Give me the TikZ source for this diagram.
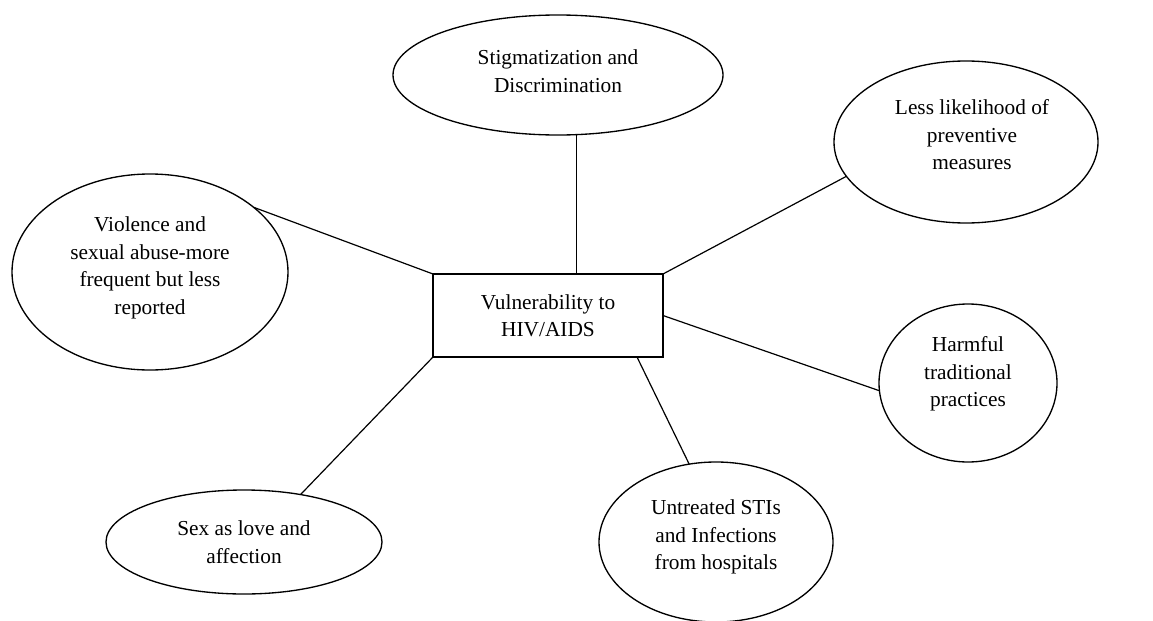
\documentclass[tikz,border=0pt]{standalone}
\usepackage{fontspec}
\setmainfont{Liberation Serif}
\usetikzlibrary{shapes.geometric}
\begin{document}
\begin{tikzpicture}[x=0.75pt,y=-0.75pt,
  bubble/.style={draw,ellipse,line width=1pt,inner sep=0pt,outer sep=0pt},
  txt/.style={align=center,inner sep=0pt,font=\fontsize{16}{20.6}\selectfont},
  boxnode/.style={draw,rectangle,line width=1pt,inner sep=0pt,outer sep=0pt,
    minimum width=172.5pt,minimum height=62.25pt,align=center,font=\fontsize{16}{20.6}\selectfont},
  link/.style={line width=0.9pt}]
\useasboundingbox (0,0) rectangle (1153,621);
% centre box
\node[boxnode] (box) at (548,315.5) {Vulnerability to\\HIV/AIDS};
% ellipses
\node[bubble,minimum width=247.5pt,minimum height=90pt] (e1) at (558,75) {};
\node[txt] (t1) at (558,71) {Stigmatization and\\Discrimination};
\node[bubble,minimum width=207pt,minimum height=147pt] (e2) at (150,272) {};
\node[txt] (t2) at (150,268) {Violence and\\sexual abuse-more\\frequent but less\\reported};
\node[bubble,minimum width=198pt,minimum height=121.5pt] (e3) at (966,142) {};
\node[txt] (t3) at (972,135) {Less likelihood of\\preventive\\measures};
\node[bubble,minimum width=133.5pt,minimum height=118.5pt] (e4) at (968,383) {};
\node[txt] (t4) at (968,374) {Harmful\\traditional\\practices};
\node[bubble,minimum width=175.5pt,minimum height=120pt] (e5) at (716,542) {};
\node[txt] (t5) at (716,537) {Untreated STIs\\and Infections\\from hospitals};
\node[bubble,minimum width=207pt,minimum height=78pt] (e6) at (244,542) {};
\node[txt] (t6) at (244,542) {Sex as love and\\affection};
% connectors
\draw[link] (e1.-73.2) -- (e1.-73.2 |- box.north);
\draw[link] (e2.32.5) -- (box.north west);
\draw[link] (e3.196.5) -- (box.north east);
\draw[link] (e4.185.1) -- (box.east);
\draw[link] (e5.109.1) -- (box.-25.8);
\draw[link] (e6.40.3) -- (box.south west);
\end{tikzpicture}
\end{document}
